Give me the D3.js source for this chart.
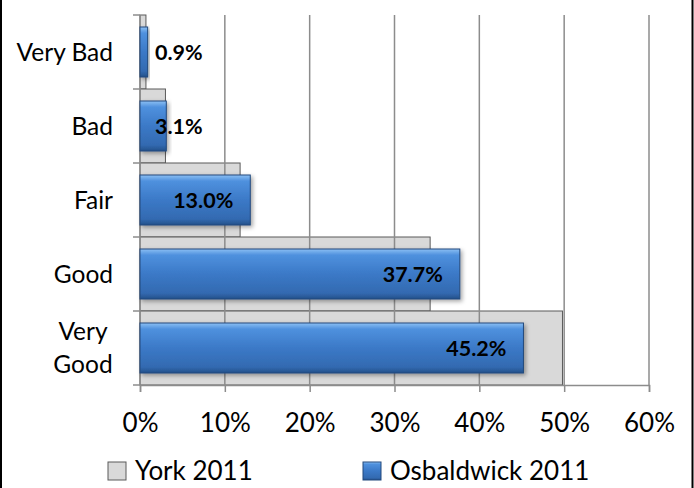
<!DOCTYPE html>
<html>
<head>
<meta charset="utf-8">
<script src="https://cdn.jsdelivr.net/npm/d3@7"></script>
<style>
  html, body { margin: 0; padding: 0; background: #fff; }
  svg { display: block; }
  text { font-family: Lato, "Open Sans", sans-serif; fill: #000; }
</style>
</head>
<body>
<svg id="chart" width="694" height="488"></svg>
<script>
const categories = ["Very Bad", "Bad", "Fair", "Good", "Very Good"];
const yorkValues = [0.7, 3.0, 11.8, 34.2, 49.8];
const osbValues = [0.9, 3.1, 13.0, 37.7, 45.2];
const tickValues = [0, 10, 20, 30, 40, 50, 60];
const seriesNames = ["York 2011", "Osbaldwick 2011"];

const W = 694, H = 488;
const plot = { left: 140, right: 649, top: 15, bottom: 385 };
const svg = d3.select("#chart");

// frame
svg.append("rect").attr("x", 1).attr("y", -2).attr("width", W - 2.5).attr("height", H + 4)
  .attr("fill", "none").attr("stroke", "#000").attr("stroke-width", 2);

const defs = svg.append("defs");
const g1 = defs.append("linearGradient").attr("id", "blueGrad").attr("x1", 0).attr("y1", 0).attr("x2", 0).attr("y2", 1);
[[0, "#8cc0f4"], [0.12, "#4f91de"], [0.5, "#3b79c7"], [0.88, "#336ab1"], [1, "#24508a"]]
  .forEach(([o, c]) => g1.append("stop").attr("offset", o).attr("stop-color", c));
const f = defs.append("filter").attr("id", "shadow").attr("x", "-10%").attr("y", "-20%").attr("width", "130%").attr("height", "150%");
f.append("feDropShadow").attr("dx", 2).attr("dy", 2).attr("stdDeviation", 2).attr("flood-color", "#000").attr("flood-opacity", 0.35);

const x = d3.scaleLinear().domain([0, 60]).range([plot.left, plot.right]);
const y = d3.scaleBand().domain(categories).range([plot.top, plot.bottom]).padding(0);

// York bars (fill whole band)
svg.append("g").selectAll("rect").data(categories).join("rect")
  .attr("x", x(0))
  .attr("y", d => y(d))
  .attr("width", (d, i) => x(yorkValues[i]) - x(0))
  .attr("height", y.bandwidth())
  .attr("fill", "#d9d9d9")
  .attr("stroke", "#5a5a5a")
  .attr("stroke-width", 1);

// gridlines
svg.append("g").selectAll("line").data(tickValues.slice(1)).join("line")
  .attr("x1", d => x(d)).attr("x2", d => x(d))
  .attr("y1", plot.top).attr("y2", plot.bottom)
  .attr("stroke", "#8c8c8c").attr("stroke-width", 1.5);

// x axis
const xAxis = d3.axisBottom(x).tickValues(tickValues).tickFormat(d => d + "%").tickSize(7).tickPadding(22);
const xa = svg.append("g").attr("transform", `translate(0,${plot.bottom})`).call(xAxis);
xa.select(".domain").attr("stroke", "#8c8c8c").attr("stroke-width", 1.5);
xa.selectAll(".tick line").attr("stroke", "#8c8c8c").attr("stroke-width", 1.5);
xa.selectAll(".tick text").attr("font-size", 26).attr("font-family", "Lato, sans-serif").attr("fill", "#000");

// y axis line + ticks at band boundaries
svg.append("line").attr("x1", x(0)).attr("x2", x(0)).attr("y1", plot.top).attr("y2", plot.bottom)
  .attr("stroke", "#8c8c8c").attr("stroke-width", 1.5);
const bounds = categories.map(c => y(c)).concat([plot.bottom]);
svg.append("g").selectAll("line").data(bounds).join("line")
  .attr("x1", x(0) - 7).attr("x2", x(0)).attr("y1", d => d).attr("y2", d => d)
  .attr("stroke", "#8c8c8c").attr("stroke-width", 1.5);

// category labels
const catG = svg.append("g");
categories.forEach(c => {
  const cy = y(c) + y.bandwidth() / 2;
  const words = c === "Very Good" ? ["Very", "Good"] : [c];
  if (words.length === 1) {
    catG.append("text").attr("x", 113).attr("y", cy).attr("dy", "0.35em")
      .attr("text-anchor", "end").attr("font-size", 24.5).text(c);
  } else {
    words.forEach((w, i) => {
      catG.append("text").attr("x", 83).attr("y", cy + (i - 0.5) * 33).attr("dy", "0.35em")
        .attr("text-anchor", "middle").attr("font-size", 24.5).text(w);
    });
  }
});

// Osbaldwick bars
const barH = 50;
svg.append("g").selectAll("rect").data(categories).join("rect")
  .attr("x", x(0))
  .attr("y", d => y(d) + (y.bandwidth() - barH) / 2)
  .attr("width", (d, i) => x(osbValues[i]) - x(0))
  .attr("height", barH)
  .attr("fill", "url(#blueGrad)")
  .attr("stroke", "#22497c")
  .attr("stroke-width", 1)
  .attr("filter", "url(#shadow)");

// value labels
const lblG = svg.append("g");
categories.forEach((c, i) => {
  const t = lblG.append("text")
    .attr("y", y(c) + y.bandwidth() / 2).attr("dy", "0.35em")
    .attr("text-anchor", "end").attr("font-size", 21.5).attr("font-weight", "bold")
    .text(osbValues[i].toFixed(1) + "%");
  const w = t.node().getComputedTextLength();
  const xr = Math.max(x(osbValues[i]) - 17, x(0) + 15 + w);
  t.attr("x", xr);
});

// legend
const leg = svg.append("g");
const legItems = [
  { name: seriesNames[0], x: 108, fill: "#d9d9d9", stroke: "#5a5a5a" },
  { name: seriesNames[1], x: 363, fill: "url(#blueGrad)", stroke: "#22497c" }
];
legItems.forEach(it => {
  leg.append("rect").attr("x", it.x).attr("y", 462).attr("width", 18).attr("height", 18)
    .attr("fill", it.fill).attr("stroke", it.stroke).attr("stroke-width", 1);
  leg.append("text").attr("x", it.x + 27).attr("y", 480)
    .attr("font-size", 26).text(it.name);
});
</script>
</body>
</html>
